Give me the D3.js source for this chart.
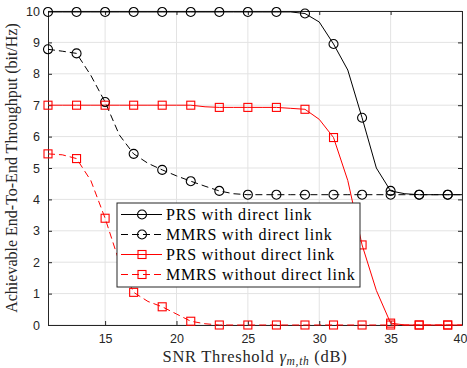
<!DOCTYPE html>
<html>
<head>
<meta charset="utf-8">
<script src="https://cdn.jsdelivr.net/npm/d3@7"></script>
<style>
  body { margin: 0; background: #fff; }
  svg { display: block; }
</style>
</head>
<body>
<div id="chart"></div>
<script>
// SNR threshold (dB), one point per dB
const snr = d3.range(11, 41);

// throughput curves (bit/Hz)
const prsDirect = [9.97, 9.97, 9.97, 9.97, 9.97, 9.97, 9.97, 9.97, 9.97, 9.97,
  9.97, 9.97, 9.97, 9.97, 9.97, 9.97, 9.97, 9.97, 9.92, 9.65,
  8.95, 8.12, 6.6, 5.0, 4.27, 4.18, 4.15, 4.15, 4.15, 4.15];
const mmrsDirect = [8.78, 8.72, 8.65, 7.95, 7.1, 6.05, 5.45, 5.15, 4.94, 4.75,
  4.58, 4.42, 4.27, 4.18, 4.15, 4.15, 4.15, 4.15, 4.15, 4.15,
  4.15, 4.15, 4.15, 4.15, 4.15, 4.15, 4.15, 4.15, 4.15, 4.15];
const prsNoDirect = [7.0, 7.0, 7.0, 7.0, 7.0, 7.0, 7.0, 7.0, 7.0, 7.0,
  7.0, 6.95, 6.93, 6.93, 6.93, 6.93, 6.93, 6.9, 6.87, 6.55,
  5.97, 4.6, 2.55, 1.1, 0.06, 0.0, 0.0, 0.0, 0.0, 0.0];
const mmrsNoDirect = [5.45, 5.42, 5.3, 4.6, 3.4, 2.0, 1.04, 0.75, 0.58, 0.35,
  0.12, 0.04, 0.0, 0.0, 0.0, 0.0, 0.0, 0.0, 0.0, 0.0,
  0.0, 0.0, 0.0, 0.0, 0.0, 0.0, 0.0, 0.0, 0.0, 0.0];

const xTicks = [15, 20, 25, 30, 35, 40];
const yTicks = d3.range(0, 11);

const series = [
  { name: "PRS with direct link", values: prsDirect, color: "#000", dash: null, marker: "circle" },
  { name: "MMRS with direct link", values: mmrsDirect, color: "#000", dash: "7,4", marker: "circle" },
  { name: "PRS without direct link", values: prsNoDirect, color: "#ff0000", dash: null, marker: "square" },
  { name: "MMRS without direct link", values: mmrsNoDirect, color: "#ff0000", dash: "7,4", marker: "square" }
];

const width = 467, height = 368;
const margin = { top: 11, right: 5, bottom: 43, left: 48 };
const w = width - margin.left - margin.right;
const h = height - margin.top - margin.bottom;

const svg = d3.select("#chart").append("svg")
  .attr("width", width)
  .attr("height", height);

const g = svg.append("g").attr("transform", `translate(${margin.left},${margin.top})`);

const x = d3.scaleLinear().domain([11, 40]).range([0, w]);
const y = d3.scaleLinear().domain([0, 10]).range([h, 0]);

// grid
g.append("g").selectAll("line").data(xTicks).enter().append("line")
  .attr("x1", d => x(d)).attr("x2", d => x(d))
  .attr("y1", 0).attr("y2", h)
  .attr("stroke", "#e3e3e3").attr("stroke-width", 1);
g.append("g").selectAll("line").data(yTicks).enter().append("line")
  .attr("x1", 0).attr("x2", w)
  .attr("y1", d => y(d)).attr("y2", d => y(d))
  .attr("stroke", "#e3e3e3").attr("stroke-width", 1);

// axes
const tickFont = "'Liberation Sans', Arial, sans-serif";
const xAxis = g.append("g").attr("transform", `translate(0,${h})`)
  .call(d3.axisBottom(x).tickValues(xTicks).tickSizeInner(-4).tickSizeOuter(0).tickPadding(9));
const yAxis = g.append("g")
  .call(d3.axisLeft(y).tickValues(yTicks).tickSizeInner(-4).tickSizeOuter(0).tickPadding(8));
const xTop = g.append("g")
  .call(d3.axisTop(x).tickValues(xTicks).tickSizeInner(-4).tickSizeOuter(0).tickFormat(""));
const yRight = g.append("g").attr("transform", `translate(${w},0)`)
  .call(d3.axisRight(y).tickValues(yTicks).tickSizeInner(-4).tickSizeOuter(0).tickFormat(""));

[xAxis, yAxis, xTop, yRight].forEach(a => {
  a.select(".domain").attr("stroke", "#262626").attr("stroke-width", 1);
  a.selectAll(".tick line").attr("stroke", "#262626");
  a.selectAll(".tick text")
    .attr("fill", "#262626")
    .style("font-family", tickFont)
    .style("font-size", "12.5px");
});
// last x label sits against the right edge, like the original
xAxis.selectAll(".tick text").filter(d => d === 40).attr("text-anchor", "end").attr("dx", 5);

// lines
const line = d3.line()
  .x((d, i) => x(snr[i]))
  .y(d => y(d));

series.forEach(s => {
  g.append("path")
    .datum(s.values)
    .attr("d", line)
    .attr("fill", "none")
    .attr("stroke", s.color)
    .attr("stroke-width", 1)
    .attr("stroke-dasharray", s.dash);
});

// markers every 2 dB
function drawMarker(sel, type, color) {
  if (type === "circle") {
    sel.append("circle").attr("r", 4.5)
      .attr("fill", "none").attr("stroke", color).attr("stroke-width", 1.1);
  } else {
    sel.append("rect").attr("x", -4).attr("y", -4).attr("width", 8).attr("height", 8)
      .attr("fill", "none").attr("stroke", color).attr("stroke-width", 1.1);
  }
}

series.forEach(s => {
  const pts = snr.map((v, i) => [v, s.values[i]]).filter(d => (d[0] - 11) % 2 === 0);
  g.append("g").selectAll("g").data(pts).enter().append("g")
    .attr("transform", d => `translate(${x(d[0])},${y(d[1])})`)
    .each(function () { drawMarker(d3.select(this), s.marker, s.color); });
});

// axis labels
const serif = "'Liberation Serif', 'Times New Roman', serif";
svg.append("text")
  .attr("transform", `translate(17,${margin.top + h / 2}) rotate(-90)`)
  .attr("text-anchor", "middle")
  .style("font-family", serif)
  .style("font-size", "16px")
  .attr("fill", "#262626")
  .text("Achievable End-To-End Throughput (bit/Hz)");

const xl = svg.append("text")
  .attr("x", 255)
  .attr("y", 362)
  .attr("text-anchor", "middle")
  .style("font-family", serif)
  .style("font-size", "16.5px")
  .style("letter-spacing", "0.7px")
  .attr("fill", "#262626");
xl.append("tspan").text("SNR Threshold ");
xl.append("tspan").style("font-style", "italic").text("γ");
xl.append("tspan").style("font-style", "italic").style("font-size", "11.5px").attr("dy", 3).text("m,th");
xl.append("tspan").attr("dy", -3).text(" (dB)");

// legend
const lg = svg.append("g").attr("transform", "translate(117,203)");
lg.append("rect")
  .attr("width", 243).attr("height", 84)
  .attr("fill", "#fff").attr("stroke", "#262626").attr("stroke-width", 1);
series.forEach((s, i) => {
  const row = lg.append("g").attr("transform", `translate(0,${11.5 + i * 20})`);
  row.append("line")
    .attr("x1", 4).attr("x2", 45)
    .attr("stroke", s.color).attr("stroke-width", 1)
    .attr("stroke-dasharray", s.dash);
  drawMarker(row.append("g").attr("transform", "translate(25,0)"), s.marker, s.color);
  row.append("text")
    .attr("x", 49).attr("y", 5.5)
    .style("font-family", serif)
    .style("font-size", "16px")
    .style("letter-spacing", "0.8px")
    .attr("fill", "#000")
    .text(s.name);
});
</script>
</body>
</html>
